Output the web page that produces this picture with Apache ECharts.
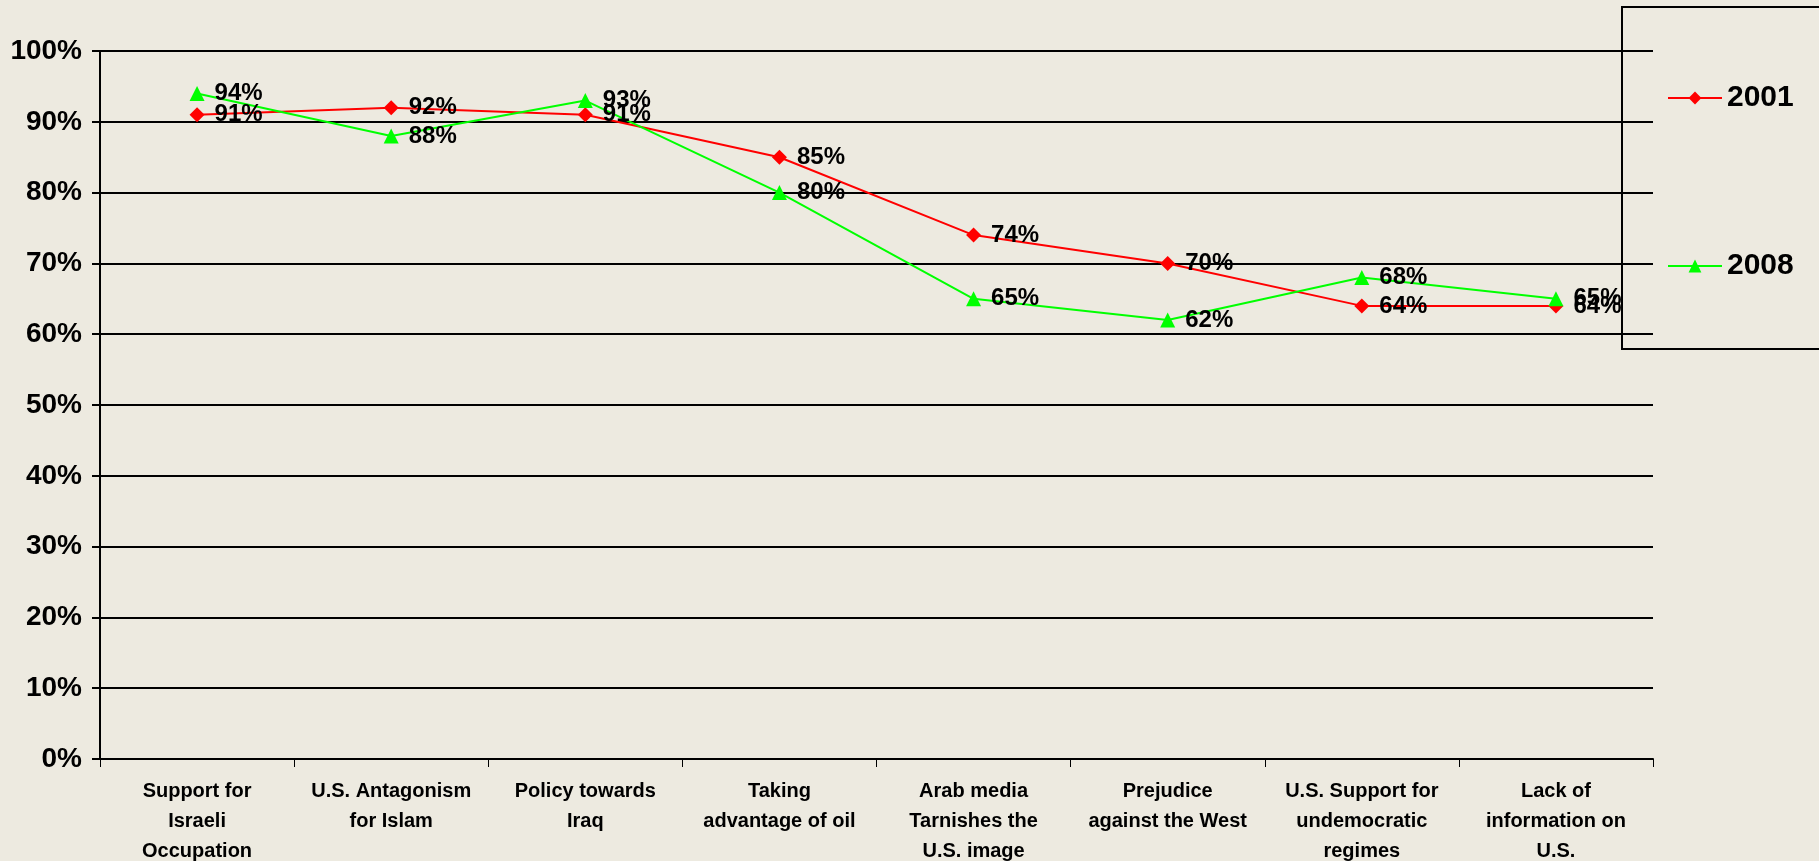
<!DOCTYPE html>
<html>
<head>
<meta charset="utf-8">
<script src="https://cdn.jsdelivr.net/npm/echarts@6/dist/echarts.min.js"></script>
<style>
  html, body { margin: 0; padding: 0; background: #EDEAE0; }
  #chart { width: 1819px; height: 861px; }
</style>
</head>
<body>
<div id="chart"></div>
<script>
const categories = [
    'Support for\nIsraeli\nOccupation',
    'U.S. Antagonism\nfor Islam',
    'Policy towards\nIraq',
    'Taking\nadvantage of oil',
    'Arab media\nTarnishes the\nU.S. image',
    'Prejudice\nagainst the West',
    'U.S. Support for\nundemocratic\nregimes',
    'Lack of\ninformation on\nU.S.'
]
const values2001 = [91, 92, 91, 85, 74, 70, 64, 64]
const values2008 = [94, 88, 93, 80, 65, 62, 68, 65]
const yTicks = { min: 0, max: 100, step: 10 }

const font = 'Liberation Sans, Arial, sans-serif'

const chart = echarts.init(document.getElementById('chart'))

const dataLabel = {
    show: true,
    position: 'right',
    distance: 10,
    formatter: '{c}%',
    color: '#000',
    fontFamily: font,
    fontWeight: 'bold',
    fontSize: 24
}

chart.setOption({
    backgroundColor: '#EDEAE0',
    animation: false,
    grid: {
        left: 100,
        right: 166,
        top: 51,
        bottom: 102,
        containLabel: false,
        outerBoundsMode: 'none'
    },
    graphic: [
        {
            // legend frame
            type: 'rect',
            shape: { x: 1622, y: 7, width: 260, height: 342 },
            style: { fill: 'transparent', stroke: '#000', lineWidth: 2 },
            z: 1
        }
    ],
    legend: {
        orient: 'vertical',
        left: 1662,
        top: 78,
        itemWidth: 54,
        itemHeight: 16,
        itemGap: 138,
        data: ['2001', '2008'],
        textStyle: {
            color: '#000',
            fontFamily: font,
            fontWeight: 'bold',
            fontSize: 30
        }
    },
    xAxis: {
        type: 'category',
        data: categories,
        boundaryGap: true,
        axisLine: { lineStyle: { color: '#000', width: 2 } },
        axisTick: { show: true, length: 8, lineStyle: { color: '#000', width: 1 } },
        axisLabel: {
            interval: 0,
            margin: 17,
            color: '#000',
            fontFamily: font,
            fontWeight: 'bold',
            fontSize: 20,
            lineHeight: 30
        }
    },
    yAxis: {
        type: 'value',
        min: yTicks.min,
        max: yTicks.max,
        interval: yTicks.step,
        axisLine: { show: true, lineStyle: { color: '#000', width: 2 } },
        axisTick: { show: true, length: 8, lineStyle: { color: '#000', width: 2 } },
        splitLine: { show: true, lineStyle: { color: '#000', width: 2 } },
        axisLabel: {
            formatter: '{value}%',
            margin: 18,
            color: '#000',
            fontFamily: font,
            fontWeight: 'bold',
            fontSize: 28
        }
    },
    series: [
        {
            name: '2001',
            type: 'line',
            data: values2001,
            symbol: 'diamond',
            symbolSize: 15,
            color: '#FF0000',
            lineStyle: { color: '#FF0000', width: 2 },
            label: dataLabel,
            z: 3
        },
        {
            name: '2008',
            type: 'line',
            data: values2008,
            symbol: 'triangle',
            symbolSize: 15,
            color: '#00FF00',
            lineStyle: { color: '#00FF00', width: 2 },
            label: dataLabel,
            z: 3
        }
    ]
})
</script>
</body>
</html>
